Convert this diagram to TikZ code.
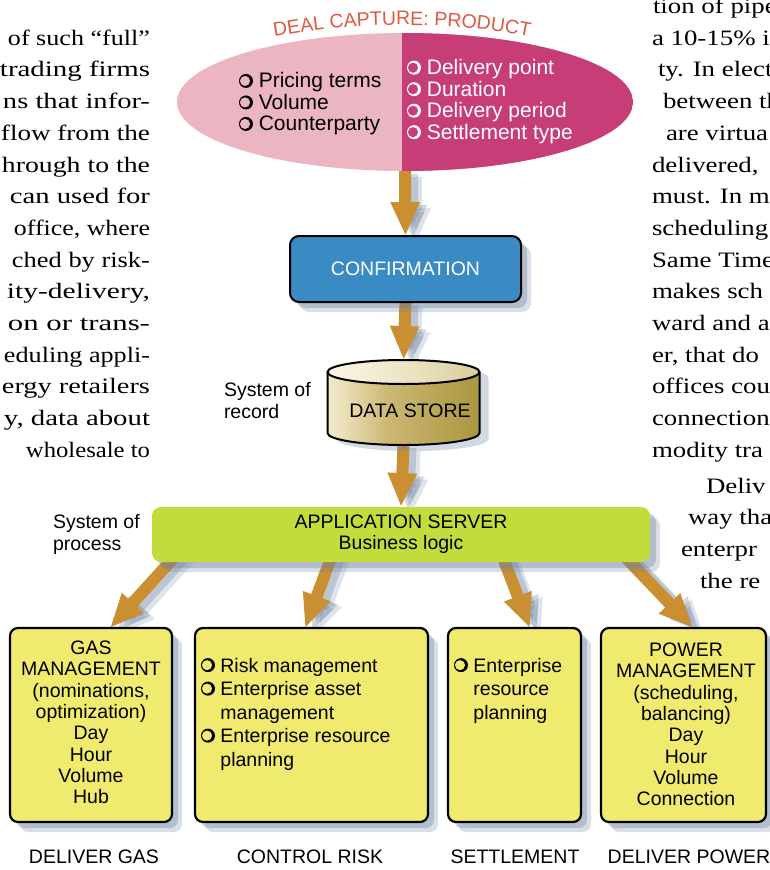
\documentclass[tikz,border=0pt]{standalone}
\usepackage{graphicx}
\usepackage{fontspec}
\setmainfont{Liberation Serif}
\newfontfamily\dg{Liberation Sans}
\usetikzlibrary{shapes.geometric,arrows.meta,shadows,decorations.text,calc}
\definecolor{pinkL}{RGB}{235,181,193}
\definecolor{pinkR}{RGB}{199,61,120}
\definecolor{titlec}{RGB}{222,88,66}
\definecolor{confc}{RGB}{58,138,196}
\definecolor{appc}{RGB}{196,219,60}
\definecolor{boxc}{RGB}{240,234,110}
\definecolor{arrowc}{RGB}{201,143,48}
\definecolor{shc}{RGB}{108,128,158}
\pgfdeclarehorizontalshading{goldbody}{100bp}{rgb(0bp)=(.64,.53,.25); rgb(8bp)=(.78,.68,.42); rgb(20bp)=(.97,.94,.86); rgb(30bp)=(.92,.88,.72); rgb(45bp)=(.80,.72,.45); rgb(65bp)=(.71,.63,.31); rgb(85bp)=(.62,.55,.19); rgb(100bp)=(.68,.60,.27)}
\pgfdeclarehorizontalshading{goldtop}{100bp}{rgb(0bp)=(.74,.64,.40); rgb(25bp)=(.98,.97,.92); rgb(55bp)=(.92,.88,.74); rgb(100bp)=(.76,.69,.45)}
\pgfdeclarelayer{bg}
\pgfsetlayers{bg,main}
% shadowed ring bullet: thin on the left, thick on the right
\newcommand\bulx{\tikz[baseline=0pt]\fill[even odd rule] (7pt,7pt) circle[radius=7pt] (6pt,7pt) circle[radius=5.2pt];}
\newcommand\fatarrow[2]{%
  \draw[fatsh=.22, transform canvas={shift={(11,6)}}] #1 -- #2;
  \draw[fatsh=.3, transform canvas={shift={(7,3)}}] #1 -- #2;
  \draw[fat] #1 -- #2;}
\begin{document}
\begin{tikzpicture}[x=1pt,y=-1pt,
  every node/.style={inner sep=0pt, outer sep=0pt},
  dgf/.style={font=\dg\fontsize{19.5}{21.3}\selectfont},
  dge/.style={font=\dg\fontsize{21}{21.5}\selectfont},
  dgl/.style={font=\dg\fontsize{19.5}{23.5}\selectfont},
  bodyf/.style={font=\fontsize{22}{26}\selectfont},
  fat/.style={draw=arrowc, line width=12pt, -{Triangle[length=34pt,width=27pt]}},
  fatsh/.style={draw=shc, line width=12pt, -{Triangle[length=34pt,width=27pt]}, opacity=#1},
  softsh/.style={drop shadow={shadow xshift=6pt, shadow yshift=-6pt, fill=shc, opacity=.35},
                 drop shadow={shadow xshift=10pt, shadow yshift=-10pt, fill=shc, opacity=.25}},
  ybox/.style={draw=black, line width=2.2pt, rounded corners=8pt, fill=boxc, softsh}
]
\useasboundingbox (0,0) rectangle (770,870);
\clip (0,0) rectangle (770,870);

% ---- surrounding body text ----
\foreach \w/\t [count=\i] in {142/{of such “full”},150/{trading firms},147/{ns that infor-},149/{flow from the},148/{hrough to the},140/{can used for},136/{office, where},138/{ched by risk-},143/{ity-delivery,},142/{on or trans-},146/{eduling appli-},148/{ergy retailers},146/{y, data about},124/{wholesale to}}
  \node[bodyf, anchor=base east] (lc\i) at (150,{13.5+31.7*\i}) {\resizebox{\w pt}{\height}{\t}};
\foreach \xx/\t [count=\i from 0] in {653/{tion of pipe},652/{a 10-15\% i},658/{ty. In elect},663/{between th},666/{are virtua},652/{delivered,},652/{must. In m},652/{scheduling},652/{Same Time},652/{makes sch},652/{ward and a},652/{er, that do},652/{offices cou},652/{connection},652/{modity tra}}
  \node[bodyf, anchor=base west] (rc\i) at (\xx,{13.5+31.7*\i}) {\scalebox{1.22}[1]{\t}};
\foreach \xx/\t [count=\i from 15] in {706/{Deliv},688/{way tha},681/{enterpr},700/{the re}}
  \node[bodyf, anchor=base west] (rc\i) at (\xx,{17.5+31.7*\i}) {\scalebox{1.22}[1]{\t}};

% ---- title ----
\path[decorate, decoration={text along path, text align=center,
  text={|\dg\fontsize{19.5}{20}\selectfont\color{titlec}|DEAL CAPTURE: PRODUCT}}]
  (258,40) .. controls (350,20) and (455,20) .. (546,40);

% ---- deal capture ellipse ----
\node[ellipse, minimum width=456pt, minimum height=138pt, fill=pinkL,
  path picture={\fill[pinkR] ([xshift=-3pt]path picture bounding box.north) rectangle (path picture bounding box.south east);}]
  (deal) at (405,102) {};
\node[dge, anchor=west, align=left] (dl) at (239,104) {\bulx\ Pricing terms\\\bulx\ Volume\\\bulx\ Counterparty};
\node[dge, anchor=west, align=left, text=white] (dr) at (407,101.5) {\bulx\ Delivery point\\\bulx\ Duration\\\bulx\ Delivery period\\\bulx\ Settlement type};

% ---- confirmation ----
\node[draw=black, line width=2pt, rounded corners=9pt, fill=confc, minimum width=231pt, minimum height=66pt, softsh, dgf, text=white] (conf) at (405.5,269) {CONFIRMATION};

% ---- data store ----
\node[minimum width=152pt, minimum height=85pt] (ds) at (403.5,402.5) {};
\fill[shc, opacity=.3] (336.5,378) -- (336.5,439) arc[start angle=180,end angle=360,x radius=76pt,y radius=12pt] -- (488.5,378) arc[start angle=0,end angle=180,x radius=76pt,y radius=12pt] -- cycle;
\shade[shading=goldbody] (327.5,372) -- (327.5,433) arc[start angle=180,end angle=360,x radius=76pt,y radius=12pt] -- (479.5,372) -- cycle;
\shade[shading=goldtop] (403.5,372) ellipse[x radius=76pt, y radius=12pt];
\draw[line width=2pt] (327.5,372) -- (327.5,433) arc[start angle=180,end angle=360,x radius=76pt,y radius=12pt] -- (479.5,372);
\draw[line width=2pt] (403.5,372) ellipse[x radius=76pt, y radius=12pt];
\node[dgf] (dst) at (410,411) {DATA STORE};
\node[dgf, anchor=west, align=left] (sor) at (224,400.5) {System of\\record};

% ---- application server ----
\node[rounded corners=9pt, fill=appc, minimum width=498pt, minimum height=55pt, softsh, dgf, align=center] (app) at (401,534.5) {APPLICATION SERVER\\Business logic};
\node[dgf, anchor=west, align=left] (sop) at (53,534.5) {System of\\process};

% ---- bottom boxes ----
\node[ybox, minimum width=162pt, minimum height=194pt] (gas) at (91,725) {};
\node[ybox, minimum width=233pt, minimum height=194pt] (risk) at (311.5,725) {};
\node[ybox, minimum width=133pt, minimum height=194pt] (settle) at (514.5,725) {};
\node[ybox, minimum width=165pt, minimum height=194pt] (power) at (683.5,725) {};

\node[dgf, align=center] (gast) at (91,722.5) {GAS\\MANAGEMENT\\(nominations,\\optimization)\\Day\\Hour\\Volume\\Hub};
\node[dgl, anchor=north west, align=left] (riskt) at (201,658) {\bulx\ Risk management\\\bulx\ Enterprise asset\\\hphantom{\bulx\ }management\\\bulx\ Enterprise resource\\\hphantom{\bulx\ }planning};
\node[dgl, anchor=north west, align=left] (settlet) at (454,658) {\bulx\ Enterprise\\\hphantom{\bulx\ }resource\\\hphantom{\bulx\ }planning};
\node[dgf, align=center] (powert) at (686,724.5) {POWER\\MANAGEMENT\\(scheduling,\\balancing)\\Day\\Hour\\Volume\\Connection};

\node[dgf] (lab1) at (94,857) {DELIVER GAS};
\node[dgf] (lab2) at (310,857) {CONTROL RISK};
\node[dgf] (lab3) at (515,857) {SETTLEMENT};
\node[dgf] (lab4) at (689,857) {DELIVER POWER};

% ---- arrows ----
\begin{pgfonlayer}{bg}
\fatarrow{(deal.south)}{(conf.north)}
\fatarrow{(conf.south)}{(ds.north)}
\fatarrow{(ds.south)}{(app.north)}
\fatarrow{([xshift=-213pt,yshift=20pt]app.south)}{([xshift=19pt]gas.north)}
\fatarrow{([xshift=-64pt,yshift=20pt]app.south)}{([xshift=-6.5pt]risk.north)}
\fatarrow{([xshift=96pt,yshift=20pt]app.south)}{([xshift=15.5pt]settle.north)}
\fatarrow{([xshift=210pt,yshift=20pt]app.south)}{([xshift=9.5pt]power.north)}
\end{pgfonlayer}
\end{tikzpicture}
\end{document}
